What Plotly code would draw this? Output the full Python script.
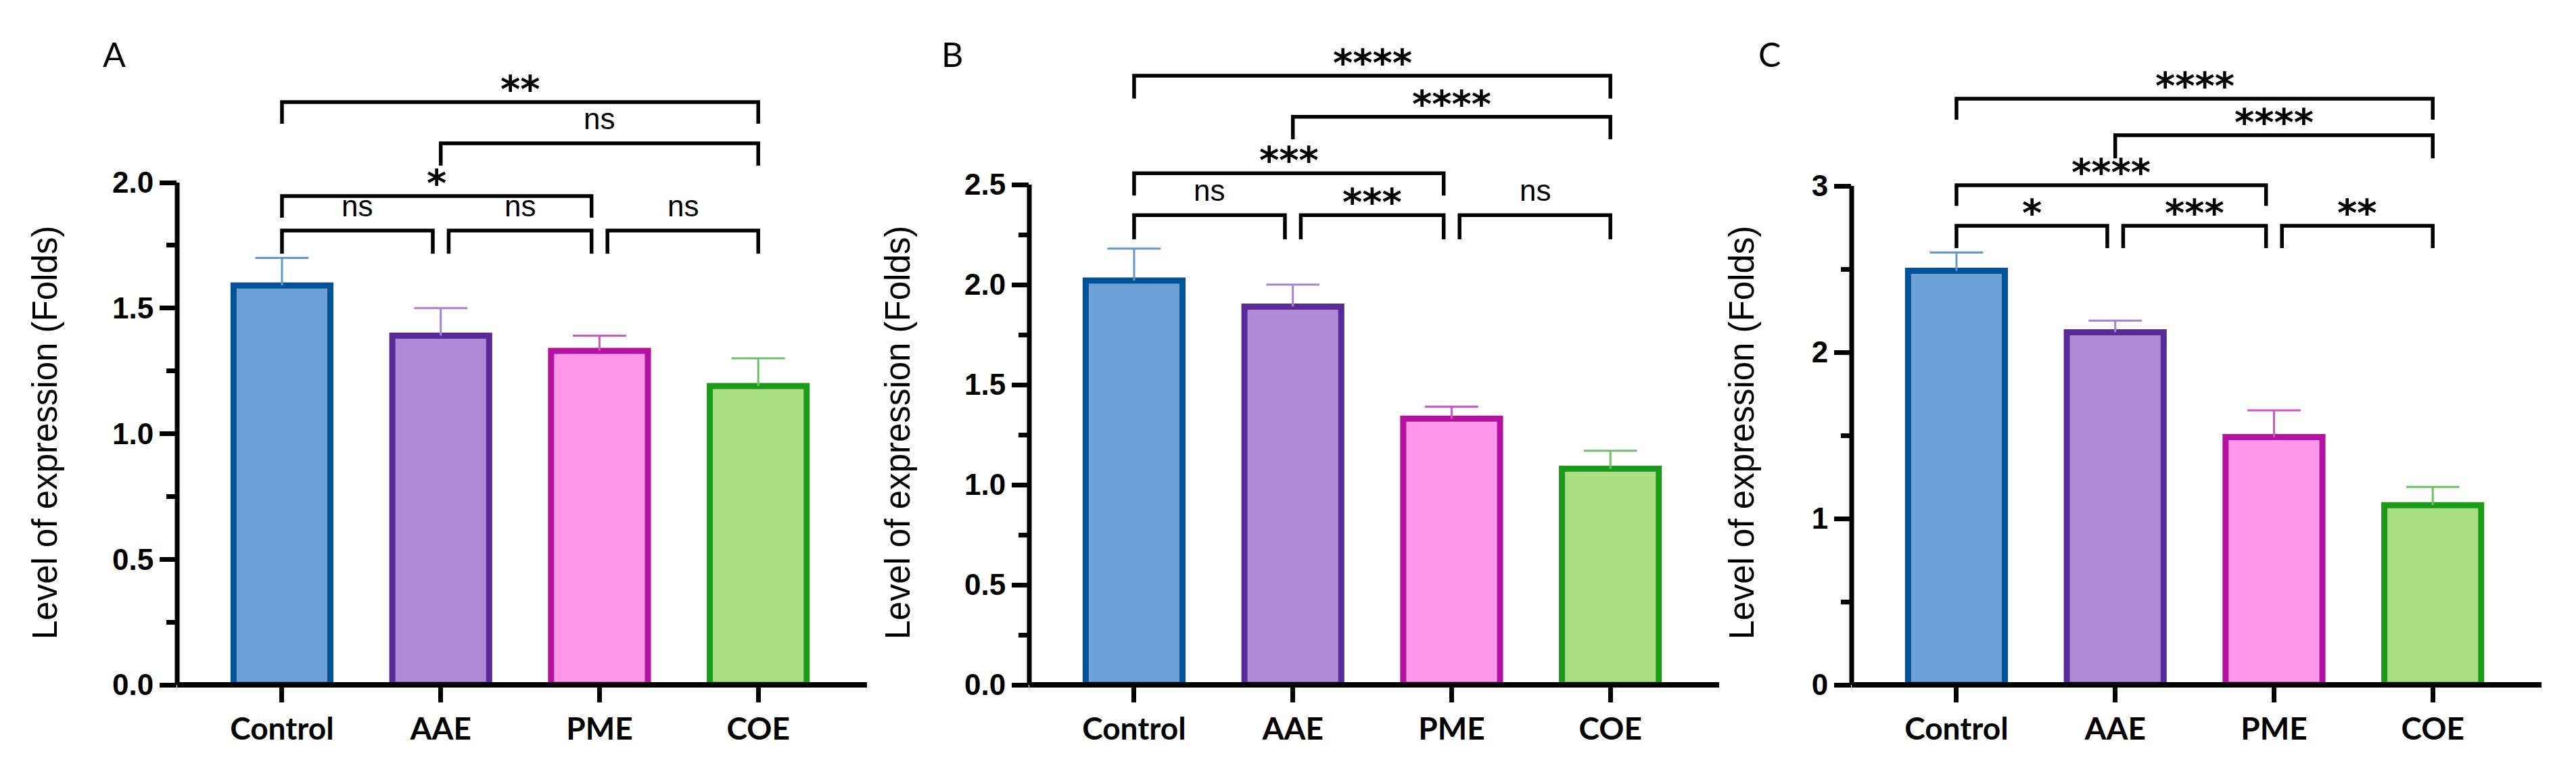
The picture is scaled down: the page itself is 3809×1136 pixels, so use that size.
import plotly.graph_objects as go

# ---------------- data ----------------
categories = ["Control", "AAE", "PME", "COE"]

A_means = [1.59, 1.39, 1.33, 1.19]
A_errs = [0.11, 0.11, 0.06, 0.11]
B_means = [2.02, 1.89, 1.33, 1.08]
B_errs = [0.16, 0.11, 0.06, 0.09]
C_means = [2.49, 2.12, 1.49, 1.08]
C_errs = [0.11, 0.07, 0.16, 0.11]

A_ticks = [0.0, 0.5, 1.0, 1.5, 2.0]
A_ticktext = ["0.0", "0.5", "1.0", "1.5", "2.0"]
A_minor = [0.25, 0.75, 1.25, 1.75]
B_ticks = [0.0, 0.5, 1.0, 1.5, 2.0, 2.5]
B_ticktext = ["0.0", "0.5", "1.0", "1.5", "2.0", "2.5"]
B_minor = [0.25, 0.75, 1.25, 1.75, 2.25]
C_ticks = [0, 1, 2, 3]
C_ticktext = ["0", "1", "2", "3"]
C_minor = [0.5, 1.5, 2.5]

# comparisons: (group i, group j)
pairs = [(0, 1), (1, 2), (2, 3), (0, 2), (1, 3), (0, 3)]
A_labels = ["ns", "ns", "ns", "*", "ns", "**"]
B_labels = ["ns", "***", "ns", "***", "****", "****"]
C_labels = ["*", "***", "**", "****", "****", "****"]
# bracket bar heights and leg ends (axis units)
A_bracket_top = [1.809, 1.809, 1.809, 1.946, 2.156, 2.32]
A_bracket_leg = [1.717, 1.717, 1.717, 1.860, 2.067, 2.234]
B_bracket_top = [2.347, 2.347, 2.347, 2.557, 2.839, 3.044]
B_bracket_leg = [2.226, 2.226, 2.226, 2.445, 2.726, 2.930]
C_bracket_top = [2.760, 2.760, 2.760, 3.004, 3.305, 3.524]
C_bracket_leg = [2.626, 2.626, 2.626, 2.880, 3.166, 3.398]

# ---------------- style ----------------
fills = ["#6CA1D6", "#AF89D6", "#FE96EC", "#ACDF83"]
borders = ["#02529A", "#5A2A98", "#B3139F", "#1C9A1C"]
errcolors = ["#6497D0", "#A283D6", "#CF57C6", "#6DC066"]

W, H = 3809, 1136
x_doms_px = [(262, 1282), (1522, 2542), (2738, 3758)]
y_dom_px = (40, 1013)  # top, bottom
x_range = [-0.66, 3.685]
px_per_unit = [371.5, 296.0, 246.0]
panel_letters = ["A", "B", "C"]
letter_x_px = [169, 1408, 2616]
ytitle_x_px = [66, 1327, 2575]

TICK_FONT = "Liberation Sans Narrow, Liberation Sans, Arial"
GAP = 0.05

panels = [
    (A_means, A_errs, A_ticks, A_ticktext, A_minor, A_labels, A_bracket_top, A_bracket_leg),
    (B_means, B_errs, B_ticks, B_ticktext, B_minor, B_labels, B_bracket_top, B_bracket_leg),
    (C_means, C_errs, C_ticks, C_ticktext, C_minor, C_labels, C_bracket_top, C_bracket_leg),
]

fig = go.Figure()
shapes = []
annotations = []
xpos = list(range(len(categories)))

for k, (means, errs, ticks, ticktext, minor, labels, btop, bleg) in enumerate(panels):
    sfx = "" if k == 0 else str(k + 1)
    xa, ya = "x" + sfx, "y" + sfx

    # bars
    fig.add_trace(go.Bar(
        x=xpos, y=means, width=0.61,
        marker=dict(color=fills, line=dict(color=borders, width=9)),
        xaxis=xa, yaxis=ya, hoverinfo="skip"))

    # upper error bars
    for i, (m, e) in enumerate(zip(means, errs)):
        fig.add_trace(go.Scatter(
            x=[i, i, None, i - 0.168, i + 0.168],
            y=[m, m + e, None, m + e, m + e],
            mode="lines", line=dict(color=errcolors[i], width=3),
            xaxis=xa, yaxis=ya, hoverinfo="skip"))

    # significance brackets
    for n, ((i, j), lab) in enumerate(zip(pairs, labels)):
        a = i + (GAP if (i, j) in [(1, 2), (2, 3)] else 0)
        b = j - (GAP if j != 3 else 0)
        fig.add_trace(go.Scatter(
            x=[a, a, b, b], y=[bleg[n], btop[n], btop[n], bleg[n]],
            mode="lines", line=dict(color="black", width=5.5),
            xaxis=xa, yaxis=ya, hoverinfo="skip"))
        is_ns = lab == "ns"
        annotations.append(dict(
            x=(a + b) / 2, y=btop[n], xref=xa, yref=ya, text=lab,
            showarrow=False, xanchor="center", yanchor="bottom",
            yshift=10 if is_ns else -15,
            font=dict(family=TICK_FONT if is_ns else "DejaVu Sans",
                      size=44 if is_ns else 56, color="black",
                      weight="normal" if is_ns else "bold")))

    x0p, x1p = x_doms_px[k]
    ytop = (y_dom_px[1] - y_dom_px[0]) / px_per_unit[k]
    fig.layout["xaxis" + sfx] = dict(
        domain=[x0p / W, x1p / W], range=x_range, anchor=ya,
        tickvals=xpos, ticktext=categories, ticks="outside", ticklen=25,
        tickwidth=7, tickcolor="black", showline=False, showgrid=False,
        zeroline=False, fixedrange=True, automargin=False,
        tickfont=dict(family="Lato", size=46, color="black", weight="bold"))
    fig.layout["yaxis" + sfx] = dict(
        domain=[1 - y_dom_px[1] / H, 1 - y_dom_px[0] / H], range=[0, ytop],
        anchor=xa, tickvals=ticks, ticktext=ticktext, ticks="outside",
        ticklen=25, tickwidth=7, tickcolor="black", showline=False,
        showgrid=False, zeroline=False, fixedrange=True, automargin=False,
        minor=dict(tickvals=minor, ticks="outside", ticklen=15, tickwidth=7,
                   tickcolor="black", showgrid=False),
        tickfont=dict(family=TICK_FONT, size=44, color="black", weight="bold"))

    # axis lines (y line stops at the top major tick)
    shapes.append(dict(type="line", xref=xa + " domain", yref=ya,
                       x0=0, x1=0, y0=0, y1=ticks[-1],
                       line=dict(color="black", width=7)))
    shapes.append(dict(type="line", xref=xa + " domain", yref=ya + " domain",
                       x0=0, x1=1, y0=0, y1=0,
                       line=dict(color="black", width=8)))

    # panel letter and y-axis title
    annotations.append(dict(
        x=letter_x_px[k] / W, y=1 - 80 / H, xref="paper", yref="paper",
        text=panel_letters[k], showarrow=False, xanchor="center",
        yanchor="middle", font=dict(family="Lato", size=50, color="black")))
    annotations.append(dict(
        x=ytitle_x_px[k] / W, y=1 - 640 / H, xref="paper", yref="paper",
        text="Level of expression (Folds)", showarrow=False, textangle=-90,
        xanchor="center", yanchor="middle",
        font=dict(family="Liberation Sans, Arial", size=51, color="black")))

fig.update_layout(
    width=W, height=H, margin=dict(l=0, r=0, t=0, b=0),
    paper_bgcolor="white", plot_bgcolor="white", showlegend=False,
    barmode="overlay", shapes=shapes, annotations=annotations)

fig.write_html("out.html", config={"displayModeBar": False},
               post_script="document.body.style.margin='0px';")
